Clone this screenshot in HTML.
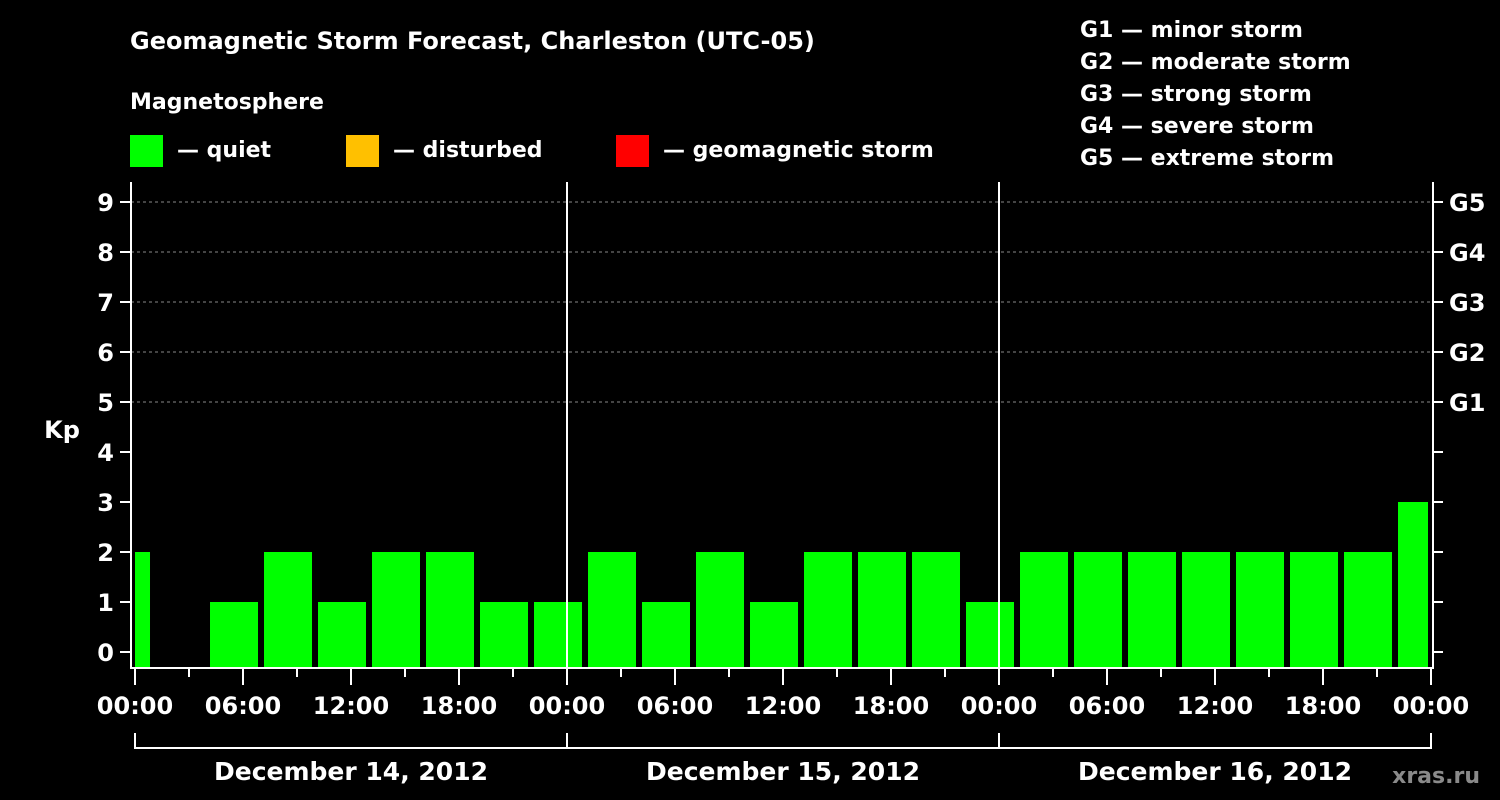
<!DOCTYPE html>
<html><head><meta charset="utf-8"><style>
body{margin:0;background:#000;width:1500px;height:800px;overflow:hidden}
svg{display:block}
text{font-family:"DejaVu Sans","Liberation Sans",sans-serif;font-weight:bold;fill:#fff}
</style></head><body>
<svg id="chart" width="1500" height="800">
<rect width="1500" height="800" fill="#000"/>
<text x="130" y="49" font-size="24">Geomagnetic Storm Forecast, Charleston (UTC-05)</text>
<text x="130" y="109" font-size="22">Magnetosphere</text>
<g><rect x="130" y="135" width="33" height="32" fill="#00ff00"/><text x="177" y="157" font-size="22">— quiet</text></g>
<g><rect x="346" y="135" width="33" height="32" fill="#ffc000"/><text x="393" y="157" font-size="22">— disturbed</text></g>
<g><rect x="616" y="135" width="33" height="32" fill="#ff0000"/><text x="663" y="157" font-size="22">— geomagnetic storm</text></g>
<g font-size="22">
<text x="1080" y="37">G1 — minor storm</text>
<text x="1080" y="69">G2 — moderate storm</text>
<text x="1080" y="101">G3 — strong storm</text>
<text x="1080" y="133">G4 — severe storm</text>
<text x="1080" y="165">G5 — extreme storm</text>
</g>
<text x="62" y="438" font-size="24" text-anchor="middle">Kp</text>
<text x="1480" y="783" font-size="22" text-anchor="end" style="fill:#8a8a8a">xras.ru</text>
<g id="grid"></g><g id="bars"></g><g id="axes"></g>
</svg>
<script>
const kpValues=[2,0,1,2,1,2,2,1,1,2,1,2,1,2,2,2,1,2,2,2,2,2,2,2,3];
const yTicks=[0,1,2,3,4,5,6,7,8,9];
const gLabels=["G1","G2","G3","G4","G5"];
const gLevels=[5,6,7,8,9];
const hourLabels=["00:00","06:00","12:00","18:00","00:00","06:00","12:00","18:00","00:00","06:00","12:00","18:00","00:00"];
const dayLabels=["December 14, 2012","December 15, 2012","December 16, 2012"];
const firstBarHour=-1.833;
const NS="http://www.w3.org/2000/svg";
const L=131,R=1433,T=182,B=668,X0=135,PXH=18;
const x=h=>X0+h*PXH;
const y=v=>652-v*50;
function mk(tag,attrs,parent,txt){const e=document.createElementNS(NS,tag);for(const k in attrs)e.setAttribute(k,attrs[k]);if(txt!==undefined)e.textContent=txt;parent.appendChild(e);return e;}
const grid=document.getElementById('grid'),bars=document.getElementById('bars'),axes=document.getElementById('axes');
gLevels.forEach(v=>{const l=mk('line',{x1:L,x2:R,y1:y(v),y2:y(v),stroke:'#888','stroke-dasharray':'3,3','stroke-width':1},grid);

});
const clip=mk('clipPath',{id:'pc'},document.getElementById('chart'));mk('rect',{x:X0,y:T,width:x(72)-X0-3,height:B-T},clip);
bars.setAttribute('clip-path','url(#pc)');
kpValues.forEach((v,i)=>{if(v<=0)return;const h0=firstBarHour+i*3;const c=v>=5?'#ff0000':(v>=4?'#ffc000':'#00ff00');
const r=mk('rect',{x:x(h0),y:y(v),width:48,height:B-1-y(v),fill:c},bars);

});
[1,2].forEach(d=>{const l=mk('line',{x1:x(d*24),x2:x(d*24),y1:T,y2:B,stroke:'#fff','stroke-width':2},axes);

});
const f=mk('path',{d:`M${L} ${T}V${B}H${R}V${T}`,fill:'none',stroke:'#fff','stroke-width':2},axes);


yTicks.forEach(v=>{mk('line',{x1:120,x2:L,y1:y(v),y2:y(v),stroke:'#fff','stroke-width':2},axes);
mk('line',{x1:R,x2:1443,y1:y(v),y2:y(v),stroke:'#fff','stroke-width':2},axes);
const t=mk('text',{x:114,y:y(v)+9,'font-size':24,'text-anchor':'end'},axes,String(v));

});
gLabels.forEach((g,i)=>{const t=mk('text',{x:1449,y:y(gLevels[i])+9,'font-size':24},axes,g);

});
for(let h=0;h<=72;h+=3){mk('line',{x1:x(h),x2:x(h),y1:B,y2:B+(h%6===0?17:9),stroke:'#fff','stroke-width':2},axes);}
hourLabels.forEach((s,i)=>{const t=mk('text',{x:x(i*6),y:714,'font-size':24,'text-anchor':'middle'},axes,s);

});
mk('line',{x1:x(0),x2:x(72),y1:748,y2:748,stroke:'#fff','stroke-width':2},axes);
for(let d=0;d<=3;d++)mk('line',{x1:x(d*24),x2:x(d*24),y1:733,y2:749,stroke:'#fff','stroke-width':2},axes);
dayLabels.forEach((s,i)=>{const t=mk('text',{x:x(i*24+12),y:780,'font-size':25,'text-anchor':'middle'},axes,s);

});
</script>
</body></html>
